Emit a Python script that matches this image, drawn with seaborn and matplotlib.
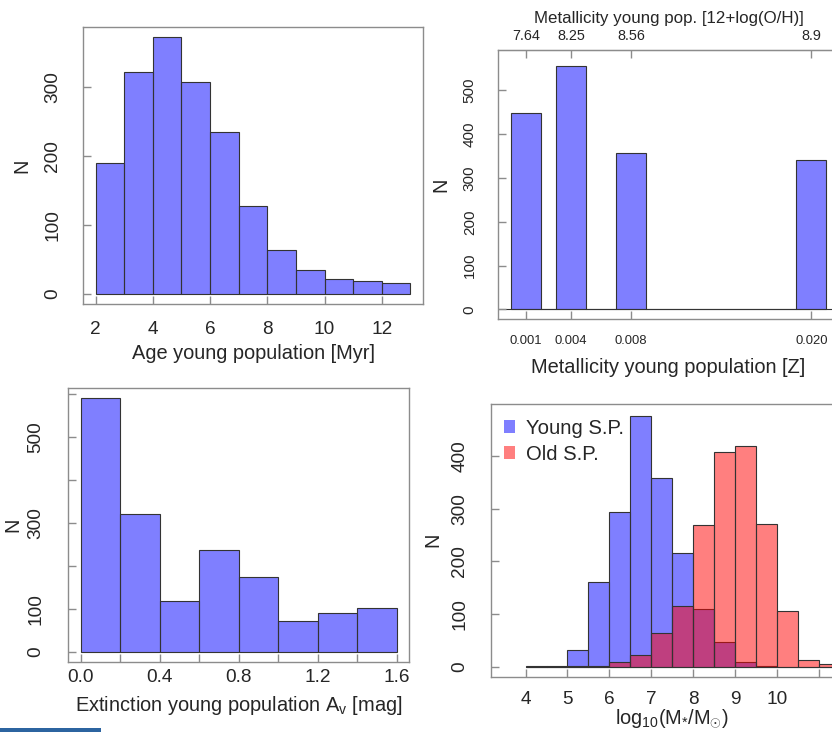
import numpy as np
import pandas as pd
import matplotlib
matplotlib.use("Agg")
import matplotlib.pyplot as plt
from matplotlib.patches import Rectangle, Patch
import seaborn as sns

# ---------------- data ----------------
age_edges = [2, 3, 4, 5, 6, 7, 8, 9, 10, 11, 12, 13]
age_counts = [190, 322, 372, 307, 234, 127, 63, 34, 21, 18, 16]

z_values = [0.001, 0.004, 0.008, 0.020]
z_counts = [448, 555, 356, 340]
z_tick_labels = ["0.001", "0.004", "0.008", "0.020"]
oh_tick_labels = ["7.64", "8.25", "8.56", "8.9"]

av_edges = [0.0, 0.2, 0.4, 0.6, 0.8, 1.0, 1.2, 1.4, 1.6]
av_counts = [592, 320, 117, 238, 173, 71, 91, 101]

mass_edges = [4.0, 4.5, 5.0, 5.5, 6.0, 6.5, 7.0, 7.5, 8.0, 8.5, 9.0, 9.5, 10.0, 10.5, 11.0, 11.5]
young_counts = [1, 2, 32, 161, 294, 475, 359, 215, 110, 46, 9, 2, 0, 0, 0]
old_counts = [0, 0, 1, 2, 9, 22, 63, 115, 268, 408, 418, 271, 105, 13, 4]

# ---------------- style ----------------
sns.set_style("white")
plt.rcParams["font.family"] = ["Liberation Sans", "DejaVu Sans"]
plt.rcParams["mathtext.fontset"] = "custom"
plt.rcParams["mathtext.rm"] = "Liberation Sans"
plt.rcParams["mathtext.it"] = "Liberation Sans:italic"
plt.rcParams["mathtext.bf"] = "Liberation Sans:bold"

BLUE = (0, 0, 1, 0.5)
RED = (1, 0, 0, 0.5)
EDGE = "#333333"
GRAY = "#8c8c8c"

fig = plt.figure(figsize=(8.32, 7.32), dpi=100)


def style_axes(ax, ysize=13.7, xsize=13.7, ypad=17, xpad=11):
    for s in ax.spines.values():
        s.set_visible(True)
        s.set_color(GRAY)
        s.set_linewidth(1.0)
    ax.tick_params(axis="both", direction="in", length=6, width=1.0, color=GRAY)
    ax.tick_params(axis="y", labelrotation=90, labelsize=ysize, pad=ypad, left=True)
    ax.tick_params(axis="x", labelsize=xsize, pad=xpad, bottom=True)
    for lab in ax.get_yticklabels():
        lab.set_verticalalignment("center")


def centers(edges):
    e = np.asarray(edges, dtype=float)
    return (e[:-1] + e[1:]) / 2


# ---------------- panel 1: age ----------------
ax1 = fig.add_axes([83 / 832, 1 - 304 / 732, 340 / 832, 277 / 732])
df1 = pd.DataFrame({"age": centers(age_edges), "n": age_counts})
sns.histplot(data=df1, x="age", weights="n", bins=age_edges, color=BLUE[:3],
             alpha=0.5, edgecolor=EDGE, linewidth=0.8, ax=ax1)
ax1.set_xlim(1.56, 13.44)
ax1.set_ylim(-14.9, 386.9)
ax1.set_xticks([2, 4, 6, 8, 10, 12])
ax1.set_yticks([0, 100, 200, 300])
style_axes(ax1, ypad=15.5, xpad=12)
ax1.set_xlabel("Age young population [Myr]", fontsize=14.4, labelpad=4.5)
ax1.set_ylabel("N", fontsize=14.4, labelpad=9.5)

# ---------------- panel 2: metallicity ----------------
ax2 = fig.add_axes([498.3 / 832, 1 - 319.3 / 732, 340.6 / 832, 269.3 / 732])
z_edges = []
for z in z_values:
    z_edges += [z - 0.001, z + 0.001]
z_edges = sorted(set(np.round(z_edges, 6)))
df2 = pd.DataFrame({"z": z_values, "n": z_counts})
sns.histplot(data=df2, x="z", weights="n", bins=z_edges, color=BLUE[:3],
             alpha=0.5, edgecolor=EDGE, linewidth=0.8, ax=ax2)
ax2.axhline(0, color=EDGE, linewidth=0.8, zorder=0)
ax2.set_xlim(-0.00083, 0.02184)
ax2.set_ylim(-22.5, 592)
ax2.set_xticks(z_values)
ax2.set_xticklabels(z_tick_labels)
ax2.set_yticks([0, 100, 200, 300, 400, 500])
style_axes(ax2, ysize=11, xsize=9.4, ypad=15.5, xpad=11)
ax2.set_xlabel("Metallicity young population [Z]", fontsize=14.4, labelpad=8.5)
ax2.set_ylabel("N", fontsize=14.4, labelpad=9)
top = ax2.secondary_xaxis("top")
top.set_xticks(z_values)
top.set_xticklabels(oh_tick_labels)
top.tick_params(direction="in", length=6, width=1.0, color=GRAY, labelsize=10.4, pad=5)
top.spines["top"].set_color(GRAY)
top.set_xlabel("Metallicity young pop. [12+log(O/H)]", fontsize=12.2, labelpad=4)

# ---------------- panel 3: extinction ----------------
ax3 = fig.add_axes([68.3 / 832, 1 - 661.7 / 732, 341 / 832, 274 / 732])
df3 = pd.DataFrame({"av": centers(av_edges), "n": av_counts})
sns.histplot(data=df3, x="av", weights="n", bins=av_edges, color=BLUE[:3],
             alpha=0.5, edgecolor=EDGE, linewidth=0.8, ax=ax3)
ax3.set_xlim(-0.064, 1.664)
ax3.set_ylim(-23.7, 615.7)
ax3.set_xticks([0.0, 0.2, 0.4, 0.6, 0.8, 1.0, 1.2, 1.4, 1.6])
ax3.set_xticklabels(["0.0", "", "0.4", "", "0.8", "", "1.2", "", "1.6"])
ax3.set_yticks([0, 100, 200, 300, 400, 500, 600])
ax3.set_yticklabels(["0", "100", "", "300", "", "500", ""])
style_axes(ax3, ypad=17, xpad=5.5)
ax3.set_xlabel(r"Extinction young population A$_{\mathregular{v}}$ [mag]", fontsize=14.4, labelpad=5.5)
ax3.set_ylabel("N", fontsize=14.4, labelpad=3.5)

# ---------------- panel 4: stellar mass ----------------
ax4 = fig.add_axes([491.3 / 832, 1 - 676.7 / 732, 361.7 / 832, 273 / 732])
mc = centers(mass_edges)
df4 = pd.DataFrame({
    "mass": np.concatenate([mc, mc]),
    "n": young_counts + old_counts,
    "pop": ["Young S.P."] * len(mc) + ["Old S.P."] * len(mc),
})
sns.histplot(data=df4[df4["pop"] == "Young S.P."], x="mass", weights="n", bins=mass_edges,
             color=BLUE[:3], alpha=0.5, edgecolor=EDGE, linewidth=0.8, ax=ax4)
sns.histplot(data=df4[df4["pop"] == "Old S.P."], x="mass", weights="n", bins=mass_edges,
             color=RED[:3], alpha=0.5, edgecolor=EDGE, linewidth=0.8, ax=ax4)
ax4.set_xlim(3.18, 11.82)
ax4.set_ylim(-19.2, 499.2)
ax4.set_xticks([4, 5, 6, 7, 8, 9, 10, 11])
ax4.set_xticklabels(["4", "5", "6", "7", "8", "9", "10", ""])
ax4.set_yticks([0, 100, 200, 300, 400])
style_axes(ax4, ypad=16.5, xpad=10)
ax4.set_xlabel(r"log$_{\mathregular{10}}$(M$_{*}$/M$_{\odot}$)", fontsize=14.4, labelpad=0)
ax4.set_ylabel("N", fontsize=14.4, labelpad=6.5)
handles = [Patch(facecolor=BLUE, edgecolor="none"), Patch(facecolor=RED, edgecolor="none")]
ax4.legend(handles, ["Young S.P.", "Old S.P."], loc="upper left", frameon=False,
           fontsize=14.6, handlelength=0.55, handleheight=0.55, handletextpad=0.55,
           labelspacing=0.35, borderaxespad=0.0, bbox_to_anchor=(0.012, 0.975))

# decorative strip at bottom-left of the page
fig.patches.append(Rectangle((0, 0), 101 / 832, 4.5 / 732, transform=fig.transFigure,
                             facecolor="#2c64a0", edgecolor="none"))

fig.savefig("out.png", dpi=100)
